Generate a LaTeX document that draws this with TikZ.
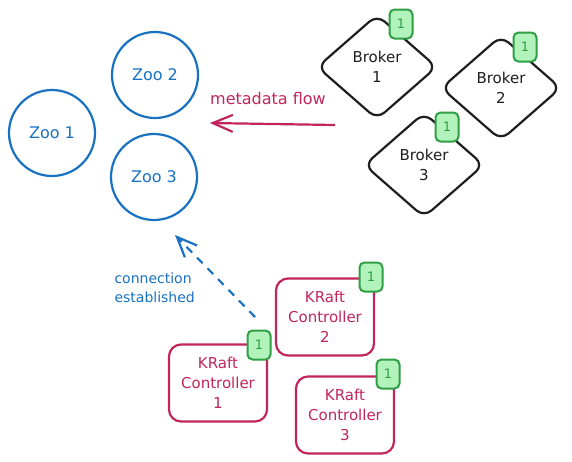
\documentclass[tikz,border=0pt]{standalone}
\usepackage{fontspec}
\setmainfont{DejaVu Sans}
\usetikzlibrary{shapes.geometric,arrows.meta}
\definecolor{zooblue}{HTML}{1971C2}
\definecolor{kraftred}{HTML}{C2255C}
\definecolor{badgegreen}{HTML}{2F9E44}
\definecolor{badgefill}{HTML}{B2F2BB}
\definecolor{ink}{HTML}{1E1E1E}
\begin{document}
\begin{tikzpicture}[x = 1pt, y = -1pt,
        zoo/.style = {circle, draw = zooblue, line width = 2.2pt, text = zooblue, minimum size = 86pt, font = \fontsize{16}{20}\selectfont},
        broker/.style = {diamond, draw = ink, fill = white, line width = 2.2pt, rounded corners = 10pt, minimum width = 120pt, minimum height = 105pt, align = center, text = ink, font = \fontsize{15}{20}\selectfont},
        controller/.style = {rectangle, draw = kraftred, fill = white, line width = 2.2pt, rounded corners = 12pt, minimum width = 98pt, minimum height = 77pt, align = center, text = kraftred, font = \fontsize{15}{20}\selectfont},
        badge/.style = {rectangle, draw = badgegreen, fill = badgefill, line width = 2pt, rounded corners = 5pt, minimum width = 23pt, minimum height = 29pt, inner sep = 0pt, text = badgegreen, font = \fontsize{13}{15}\selectfont},
        flow/.style = {line width = 2.2pt, -{Straight Barb[length = 20pt, width = 17pt]}}
    ]
    \useasboundingbox (0,0) rectangle (572,461);

    \node [zoo] (zoo1) at (52,133)  {Zoo 1};
    \node [zoo] (zoo2) at (155,75)  {Zoo 2};
    \node [zoo] (zoo3) at (154,177) {Zoo 3};

    \node [broker] (broker1) at (377,67)  {Broker\\1};
    \node [broker] (broker2) at (501,88)  {Broker\\2};
    \node [broker] (broker3) at (424,165) {Broker\\3};

    \node [badge] (broker1 badge) at (401,24)  {1};
    \node [badge] (broker2 badge) at (525,47)  {1};
    \node [badge] (broker3 badge) at (447,127) {1};

    \node [controller] (ctrl2) at (325,317) {KRaft\\Controller\\2};
    \node [controller] (ctrl1) at (218,383) {KRaft\\Controller\\1};
    \node [controller] (ctrl3) at (345,415) {KRaft\\Controller\\3};

    \node [badge] (ctrl1 badge) at (259,345) {1};
    \node [badge] (ctrl2 badge) at (371,277) {1};
    \node [badge] (ctrl3 badge) at (388,374) {1};

    % metadata flow
    \coordinate (meta from) at (335,125);
    \coordinate (meta to)   at (210,123);
    \draw [flow, kraftred] (meta from) -- (meta to);
    \node [text = kraftred, font = \fontsize{16}{20}\selectfont] (meta label) at (268,99) {metadata flow};

    % connection established
    \coordinate (conn from) at (255,317);
    \coordinate (conn to)   at (175,235);
    \draw [flow, zooblue, dash pattern = on 8pt off 7pt] (conn from) -- (conn to);
    \node [anchor = west, align = left, text = zooblue, font = \fontsize{14}{19}\selectfont] (conn label) at (111,288) {connection\\established};
\end{tikzpicture}
\end{document}
